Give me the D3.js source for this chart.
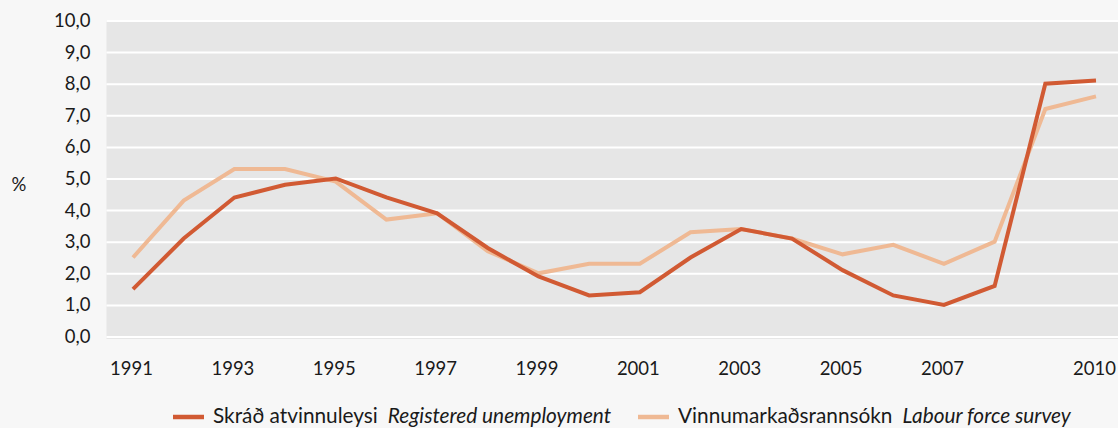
<!DOCTYPE html>
<html>
<head>
<meta charset="utf-8">
<script src="https://cdn.jsdelivr.net/npm/d3@7"></script>
<style>
  html, body { margin: 0; padding: 0; background: #f7f7f7; }
  svg { display: block; font-family: Lato, "Open Sans", sans-serif; }
</style>
</head>
<body>
<div id="chart"></div>
<script>
// data
const years = d3.range(1991, 2011);
const registered = [1.5, 3.1, 4.4, 4.8, 5.0, 4.4, 3.9, 2.8, 1.9, 1.3, 1.4, 2.5, 3.4, 3.1, 2.1, 1.3, 1.0, 1.6, 8.0, 8.1];
const labourSurvey = [2.5, 4.3, 5.3, 5.3, 4.9, 3.7, 3.9, 2.7, 2.0, 2.3, 2.3, 3.3, 3.4, 3.1, 2.6, 2.9, 2.3, 3.0, 7.2, 7.6];
const yTicks = d3.range(0, 11);
const xTickYears = [1991, 1993, 1995, 1997, 1999, 2001, 2003, 2005, 2007, 2010];
const seriesNames = [
  ["Skráð atvinnuleysi", "Registered unemployment"],
  ["Vinnumarkaðsrannsókn", "Labour force survey"]
];

const w = 1118, h = 428;
const colors = ["#d15a33", "#efb994"];
const fmt = d => d3.format(".1f")(d).replace(".", ",");

const svg = d3.select("#chart").append("svg")
  .attr("width", w)
  .attr("height", h);

const plot = {left: 106.5, top: 20, bottom: 339};

const x = d3.scalePoint()
  .domain(years)
  .range([133, 1096]);

const y = d3.scaleLinear()
  .domain([0, 10])
  .range([336.5, 20.5]);

// grey plot background
svg.append("rect")
  .attr("x", plot.left)
  .attr("y", plot.top)
  .attr("width", w - plot.left)
  .attr("height", plot.bottom - plot.top)
  .attr("fill", "#e6e6e6");

// y axis: white grid lines, labels on the left
const yAxis = d3.axisLeft(y)
  .tickValues(yTicks)
  .tickSize(-(w - plot.left))
  .tickFormat(fmt);

svg.append("g")
  .attr("transform", `translate(${plot.left},0)`)
  .call(yAxis)
  .call(g => g.select(".domain").remove())
  .call(g => g.selectAll(".tick line").attr("stroke", "#fff").attr("stroke-width", 2))
  .call(g => g.selectAll(".tick text")
    .attr("x", -16)
    .attr("fill", "#1a1a1a")
    .attr("font-size", 18.5)
    .attr("font-family", "Lato, sans-serif"));

svg.append("text")
  .attr("x", 19)
  .attr("y", 185)
  .attr("dy", "0.35em")
  .attr("text-anchor", "middle")
  .attr("font-size", 18.5)
  .attr("fill", "#1a1a1a")
  .text("%");

// x axis: labels only
const xAxis = d3.axisBottom(x)
  .tickValues(xTickYears)
  .tickSize(0)
  .tickPadding(0);

svg.append("g")
  .attr("transform", `translate(-2,375)`)
  .call(xAxis)
  .call(g => g.select(".domain").remove())
  .call(g => g.selectAll(".tick text")
    .attr("dy", 0)
    .attr("y", 0)
    .attr("fill", "#1a1a1a")
    .attr("font-size", 18.5)
    .attr("font-family", "Lato, sans-serif"));

const line = d3.line()
  .x((d, i) => x(years[i]))
  .y(d => y(d));

// light series drawn first, dark on top where they meet
[labourSurvey, registered].forEach((s, k) => {
  svg.append("path")
    .datum(s)
    .attr("fill", "none")
    .attr("stroke", k === 0 ? colors[1] : colors[0])
    .attr("stroke-width", 4)
    .attr("stroke-linejoin", "miter")
    .attr("d", line);
});

// legend
const legendX = [173, 638];
const legend = svg.append("g");
seriesNames.forEach((n, i) => {
  legend.append("line")
    .attr("x1", legendX[i])
    .attr("x2", legendX[i] + 31)
    .attr("y1", 417)
    .attr("y2", 417)
    .attr("stroke", colors[i])
    .attr("stroke-width", 4.5);
  const t = legend.append("text")
    .attr("x", legendX[i] + 40)
    .attr("y", 423)
    .attr("font-size", 20.8)
    .attr("fill", "#1a1a1a");
  t.append("tspan").text(n[0]);
  t.append("tspan").attr("dx", 10).attr("font-style", "italic").text(n[1]);
});
</script>
</body>
</html>
